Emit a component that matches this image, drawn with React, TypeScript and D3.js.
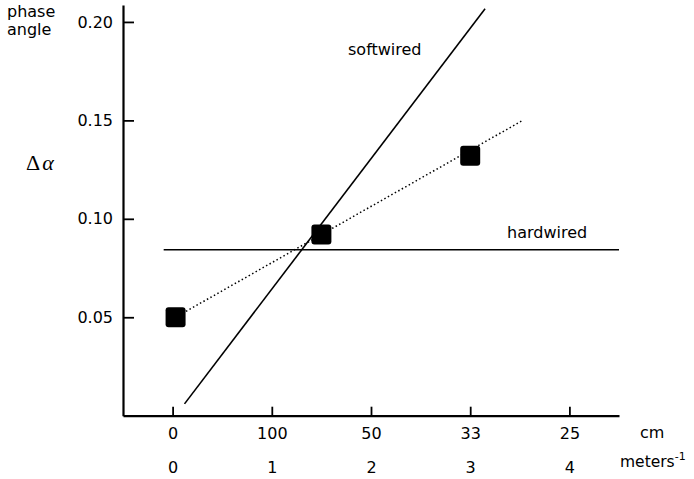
import React, { useEffect, useRef } from "react";
import * as d3 from "d3";

// x positions are in meters^-1, the cm row is just the reciprocal label
const meterTicks = [0, 1, 2, 3, 4];
const cmLabels = ["0", "100", "50", "33", "25"];
const yTicks = [0.05, 0.1, 0.15, 0.2];

// measured phase angles (squares)
const measuredX = [0.03, 1.5, 3.0];
const measuredY = [0.05, 0.092, 0.132];

// dotted fit through the measurements
const fitX = [0.03, 3.53];
const fitY = [0.05, 0.15];

// model lines
const softwiredX = [0.12, 3.15];
const softwiredY = [0.006, 0.2067];
const hardwiredX = [-0.09, 4.5];
const hardwiredY = [0.0843, 0.0843];

const W = 694;
const H = 479;
const FONT = "'DejaVu Sans', Verdana, sans-serif";

export default function App() {
  const ref = useRef<SVGSVGElement | null>(null);

  useEffect(() => {
    const svg = d3.select(ref.current);
    svg.selectAll("*").remove();

    const x = d3.scaleLinear().domain([-0.5, 4.5]).range([123, 619]);
    const y = d3.scaleLinear().domain([0, 0.2086]).range([415.7, 5]);

    // Y axis (ticks point inward)
    const yAxis = svg
      .append("g")
      .attr("transform", "translate(123,0)")
      .call(
        d3
          .axisLeft(y)
          .tickValues(yTicks)
          .tickSize(-11)
          .tickSizeOuter(0)
          .tickPadding(10)
          .tickFormat(d3.format(".2f"))
      );
    yAxis.select(".domain").attr("stroke-width", 2.2);
    yAxis.selectAll(".tick line").attr("stroke-width", 1.8);
    yAxis.selectAll("text").attr("font-family", FONT).attr("font-size", 16).attr("fill", "#000");

    // X axis, cm row
    const xAxis = svg
      .append("g")
      .attr("transform", "translate(0,415.7)")
      .call(
        d3
          .axisBottom(x)
          .tickValues(meterTicks)
          .tickSize(-9)
          .tickSizeOuter(0)
          .tickPadding(12)
          .tickFormat((d, i) => cmLabels[i])
      );
    xAxis.select(".domain").attr("stroke-width", 2.2);
    xAxis.selectAll(".tick line").attr("stroke-width", 1.8);
    xAxis.selectAll("text").attr("font-family", FONT).attr("font-size", 16).attr("fill", "#000");

    // X axis, meters^-1 row
    const mAxis = svg
      .append("g")
      .attr("transform", "translate(0,415.7)")
      .call(
        d3
          .axisBottom(x)
          .tickValues(meterTicks)
          .tickSize(0)
          .tickPadding(46)
          .tickFormat(d3.format("d"))
      );
    mAxis.select(".domain").remove();
    mAxis.selectAll("text").attr("font-family", FONT).attr("font-size", 16).attr("fill", "#000");

    const line = d3
      .line<[number, number]>()
      .x((d) => x(d[0]))
      .y((d) => y(d[1]));

    // hardwired
    svg
      .append("path")
      .attr("d", line(d3.zip(hardwiredX, hardwiredY) as [number, number][]))
      .attr("stroke", "#000")
      .attr("stroke-width", 1.6)
      .attr("fill", "none");

    // softwired
    svg
      .append("path")
      .attr("d", line(d3.zip(softwiredX, softwiredY) as [number, number][]))
      .attr("stroke", "#000")
      .attr("stroke-width", 1.6)
      .attr("fill", "none");

    // dotted fit
    svg
      .append("path")
      .attr("d", line(d3.zip(fitX, fitY) as [number, number][]))
      .attr("stroke", "#000")
      .attr("stroke-width", 1.5)
      .attr("stroke-dasharray", "1.5 2.5")
      .attr("fill", "none");

    // squares
    const size = 20;
    svg
      .append("g")
      .selectAll("rect")
      .data(d3.zip(measuredX, measuredY))
      .join("rect")
      .attr("x", (d) => x(d[0]) - size / 2)
      .attr("y", (d) => y(d[1]) - size / 2)
      .attr("width", size)
      .attr("height", size)
      .attr("rx", 3)
      .attr("fill", "#000");

    // line labels
    const label = (tx: number, ty: number, s: string, fs = 16) =>
      svg
        .append("text")
        .attr("x", tx)
        .attr("y", ty)
        .attr("font-family", FONT)
        .attr("font-size", fs)
        .attr("fill", "#000")
        .text(s);

    label(348, 55, "softwired");
    label(507, 238, "hardwired");

    // axis titles
    label(7, 17, "phase");
    label(7, 35, "angle");
    label(640, 438, "cm");
    const m = label(620, 467, "meters", 15.5);
    m.append("tspan").attr("font-size", 11).attr("dy", -7).text("-1");

    const da = svg
      .append("text")
      .attr("x", 26)
      .attr("y", 170)
      .attr("font-family", "'Liberation Serif', 'Times New Roman', serif")
      .attr("font-size", 22)
      .attr("fill", "#000");
    da.append("tspan").text("Δ");
    da.append("tspan").attr("font-style", "italic").attr("dx", 2).text("α");
  }, []);

  return (
    <svg
      ref={ref}
      width={W}
      height={H}
      style={{ position: "absolute", left: 0, top: 0, background: "#fff" }}
    />
  );
}
